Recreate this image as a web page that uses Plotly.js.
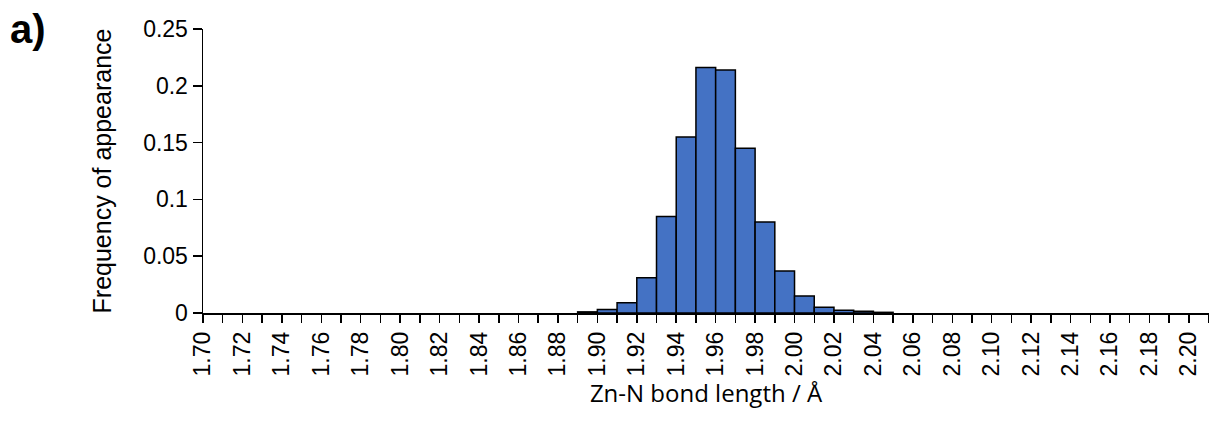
<!DOCTYPE html>
<html>
<head>
<meta charset="utf-8">
<script src="https://cdn.plot.ly/plotly-3.0.1.min.js"></script>
<style>html,body{margin:0;padding:0;background:#fff}#chart{width:1217px;height:422px}</style>
</head>
<body>
<div id="chart"></div>
<script>
// Left edges of the 0.01 Å bins (Å)
const binLeft = [1.89, 1.90, 1.91, 1.92, 1.93, 1.94, 1.95, 1.96, 1.97, 1.98, 1.99, 2.00, 2.01, 2.02, 2.03, 2.04];
// Frequency of appearance per bin
const frequency = [0.001, 0.003, 0.009, 0.031, 0.085, 0.155, 0.216, 0.214, 0.145, 0.080, 0.037, 0.015, 0.005, 0.0025, 0.0015, 0.0006];
// X tick labels
const xTickLabels = ["1.70","1.72","1.74","1.76","1.78","1.80","1.82","1.84","1.86","1.88","1.90","1.92","1.94","1.96","1.98","2.00","2.02","2.04","2.06","2.08","2.10","2.12","2.14","2.16","2.18","2.20"];
const binWidth = 0.01;

const trace = {
  type: 'bar',
  x: binLeft,
  y: frequency,
  width: binLeft.map(() => binWidth),
  offset: 0,
  marker: {color: '#4472C4', line: {color: '#000000', width: 1.5}},
  hoverinfo: 'x+y'
};

const layout = {
  width: 1217, height: 422,
  margin: {l: 203, r: 8, t: 29, b: 109},
  paper_bgcolor: '#ffffff', plot_bgcolor: '#ffffff',
  showlegend: false,
  font: {family: 'Liberation Sans, Arial, sans-serif', color: '#000'},
  xaxis: {
    range: [1.70, 2.2102],
    tickmode: 'array',
    tickvals: xTickLabels.map(Number),
    ticktext: xTickLabels,
    tickangle: -90,
    ticks: 'outside', ticklen: 8, tickwidth: 1.5, tickcolor: '#000',
    minor: {dtick: 0.01, tick0: 1.70, ticks: 'outside', ticklen: 8, tickwidth: 1.5, tickcolor: '#000', showgrid: false},
    showline: true, linecolor: '#000', linewidth: 1.5,
    showgrid: false, zeroline: false,
    tickfont: {size: 23, family: 'Liberation Sans, Arial, sans-serif'},
    title: {text: 'Zn-N bond length / Å', font: {size: 24, family: 'Open Sans, sans-serif'}, standoff: 2}
  },
  yaxis: {
    range: [0, 0.25],
    dtick: 0.05, tick0: 0,
    ticks: 'outside', ticklen: 9, tickwidth: 1.5, tickcolor: '#000',
    showline: true, linecolor: '#000', linewidth: 1.5,
    showgrid: false, zeroline: false,
    tickfont: {size: 23, family: 'Liberation Sans, Arial, sans-serif'},
    title: {text: 'Frequency of appearance', font: {size: 25, family: 'Liberation Sans, Arial, sans-serif'}, standoff: 24}
  },
  annotations: [{
    text: '<b>a)</b>', xref: 'paper', yref: 'paper',
    x: -0.194, y: 1.085, xanchor: 'left', yanchor: 'top',
    showarrow: false, font: {size: 40, family: 'Liberation Sans, Arial, sans-serif', color: '#000'}
  }]
};

Plotly.newPlot('chart', [trace], layout, {displayModeBar: false, staticPlot: true});
</script>
</body>
</html>
